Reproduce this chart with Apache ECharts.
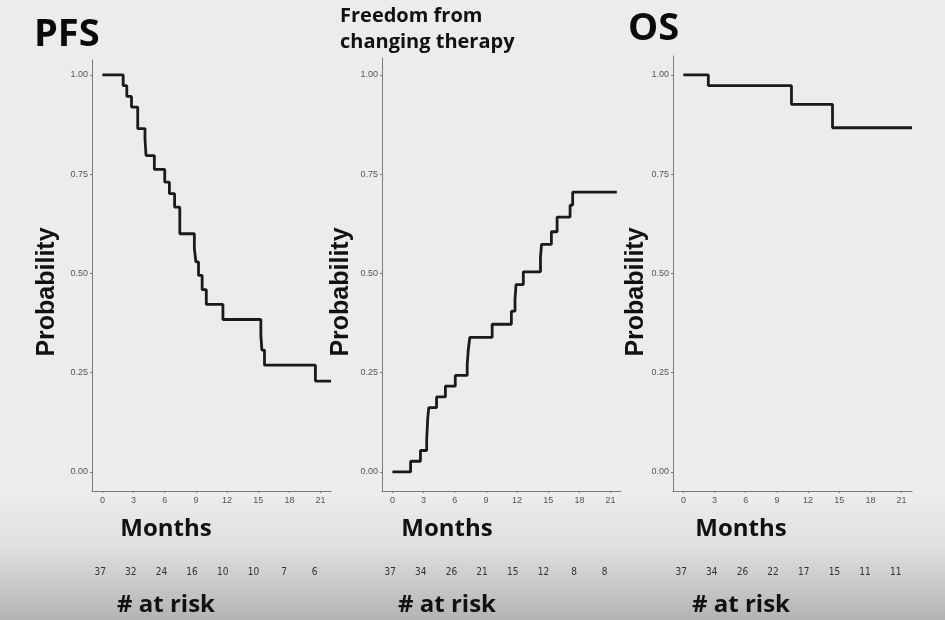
<!DOCTYPE html>
<html>
<head>
<meta charset="utf-8">
<script src="https://cdn.jsdelivr.net/npm/echarts@6/dist/echarts.min.js"></script>
<style>
  html, body { margin: 0; padding: 0; background: #ececec; }
</style>
</head>
<body>
<div id="chartDom" style="width: 945px; height: 620px;"></div>
<script>
// data
const pfsMonths = [0, 2.0, 2.35, 2.8, 3.4, 4.1, 4.2, 5.0, 6.0, 6.45, 6.95, 7.45, 8.85, 9.0, 9.25, 9.6, 10.0, 11.6, 15.25, 15.35, 15.6, 20.5, 22.0];
const pfsProb = [1.0, 0.973, 0.946, 0.919, 0.865, 0.838, 0.797, 0.762, 0.730, 0.701, 0.667, 0.600, 0.563, 0.529, 0.495, 0.459, 0.422, 0.384, 0.344, 0.307, 0.269, 0.229, 0.229];

const fctMonths = [0, 1.75, 2.7, 3.3, 3.4, 3.5, 4.25, 5.1, 6.05, 7.2, 7.3, 7.45, 9.6, 11.45, 11.8, 11.9, 12.6, 14.25, 14.35, 15.3, 15.85, 17.1, 17.35, 21.6];
const fctProb = [0, 0.027, 0.054, 0.081, 0.135, 0.162, 0.189, 0.216, 0.243, 0.27, 0.307, 0.339, 0.372, 0.405, 0.435, 0.472, 0.504, 0.54, 0.573, 0.605, 0.642, 0.672, 0.705, 0.705];

const osMonths = [0, 2.4, 10.4, 14.35, 22.0];
const osProb = [1.0, 0.973, 0.926, 0.867, 0.867];

const monthTicks = [0, 3, 6, 9, 12, 15, 18, 21];
const probTicks = [0, 0.25, 0.5, 0.75, 1.0];

const pfsAtRisk = [37, 32, 24, 16, 10, 10, 7, 6];
const fctAtRisk = [37, 34, 26, 21, 15, 12, 8, 8];
const osAtRisk = [37, 34, 26, 22, 17, 15, 11, 11];

const panelTitles = ["PFS", "Freedom from\nchanging therapy", "OS"];

// layout of the three panels
const panels = [
    { left: 92, top: 60, height: 431, mid: 166, probX: 47 },
    { left: 382, top: 58, height: 433, mid: 447, probX: 341 },
    { left: 673, top: 56, height: 435, mid: 741, probX: 636 },
];
const curves = [
    [pfsMonths, pfsProb],
    [fctMonths, fctProb],
    [osMonths, osProb],
];
const atRisk = [pfsAtRisk, fctAtRisk, osAtRisk];

const tickFont = '"Liberation Sans", Arial, sans-serif';
const boldFont = '"Open Sans", "Noto Sans", sans-serif';

const chart = echarts.init(document.getElementById("chartDom"));

const grid = [];
const xAxis = [];
const yAxis = [];
const series = [];
const graphic = [
    {
        type: "rect",
        z: -10,
        silent: true,
        shape: { x: 0, y: 495, width: 945, height: 125 },
        style: {
            fill: new echarts.graphic.LinearGradient(0, 0, 0, 1, [
                { offset: 0, color: "#ececec" },
                { offset: 0.4, color: "#e0e0e0" },
                { offset: 1, color: "#b3b3b3" },
            ]),
        },
    },
];

panels.forEach((p, i) => {
    grid.push({ left: p.left, top: p.top, width: 239, height: p.height });

    // months axis
    xAxis.push({
        type: "value",
        gridIndex: i,
        min: -1,
        max: 22,
        splitLine: { show: false },
        axisLine: { show: true, onZero: false, lineStyle: { color: "#7a7a7a", width: 1 } },
        axisTick: { show: true, length: 2, customValues: monthTicks, lineStyle: { color: "#7a7a7a" } },
        axisLabel: { customValues: monthTicks, fontSize: 9, color: "#555", fontFamily: tickFont, margin: 5 },
    });
    // number at risk, shown as a second axis under the first one
    xAxis.push({
        type: "value",
        gridIndex: i,
        position: "bottom",
        offset: 74,
        min: -0.8,
        max: 22.6,
        splitLine: { show: false },
        axisLine: { show: false, onZero: false },
        axisTick: { show: false },
        axisLabel: {
            customValues: monthTicks,
            fontSize: 10,
            color: "#333",
            fontFamily: '"Liberation Sans Narrow", "DejaVu Sans Condensed", sans-serif',
            margin: 2,
            formatter: (v) => String(atRisk[i][monthTicks.indexOf(v)]),
        },
    });

    yAxis.push({
        type: "value",
        gridIndex: i,
        min: -0.048,
        max: -0.048 + p.height / 397,
        splitLine: { show: false },
        axisLine: { show: true, onZero: false, lineStyle: { color: "#7a7a7a", width: 1 } },
        axisTick: { show: true, length: 2, customValues: probTicks, lineStyle: { color: "#7a7a7a" } },
        axisLabel: {
            customValues: probTicks,
            fontSize: 9,
            color: "#555",
            fontFamily: tickFont,
            margin: 4,
            formatter: (v) => v.toFixed(2),
        },
    });

    series.push({
        type: "line",
        xAxisIndex: i * 2,
        yAxisIndex: i,
        step: "end",
        symbol: "none",
        lineStyle: { color: "#1a1a1a", width: 2.8 },
        data: curves[i][0].map((m, k) => [m, curves[i][1][k]]),
    });

    graphic.push(
        {
            type: "text",
            x: p.probX,
            y: 292,
            rotation: Math.PI / 2,
            style: {
                text: "Probability",
                font: 'bold 25px "Liberation Sans", Arial, sans-serif',
                fill: "#111",
                align: "center",
                verticalAlign: "middle",
            },
        },
        {
            type: "text",
            x: p.mid,
            y: 529,
            style: {
                text: "Months",
                font: "bold 24px " + boldFont,
                fill: "#111",
                align: "center",
                verticalAlign: "middle",
            },
        },
        {
            type: "text",
            x: p.mid,
            y: 605,
            style: {
                text: "# at risk",
                font: "bold 24px " + boldFont,
                fill: "#111",
                align: "center",
                verticalAlign: "middle",
            },
        }
    );
});

const option = {
    backgroundColor: "#ececec",
    animation: false,
    title: [
        { text: panelTitles[0], left: 34, top: 16, padding: 0, textStyle: { fontSize: 38, fontWeight: "bold", color: "#0a0a0a", fontFamily: boldFont } },
        { text: panelTitles[1], left: 340, top: 3, padding: 0, textStyle: { fontSize: 20, fontWeight: "bold", color: "#111", lineHeight: 26, fontFamily: boldFont } },
        { text: panelTitles[2], left: 628, top: 10, padding: 0, textStyle: { fontSize: 38, fontWeight: "bold", color: "#0a0a0a", fontFamily: boldFont } },
    ],
    grid,
    xAxis,
    yAxis,
    series,
    graphic,
};

chart.setOption(option);
</script>
</body>
</html>
